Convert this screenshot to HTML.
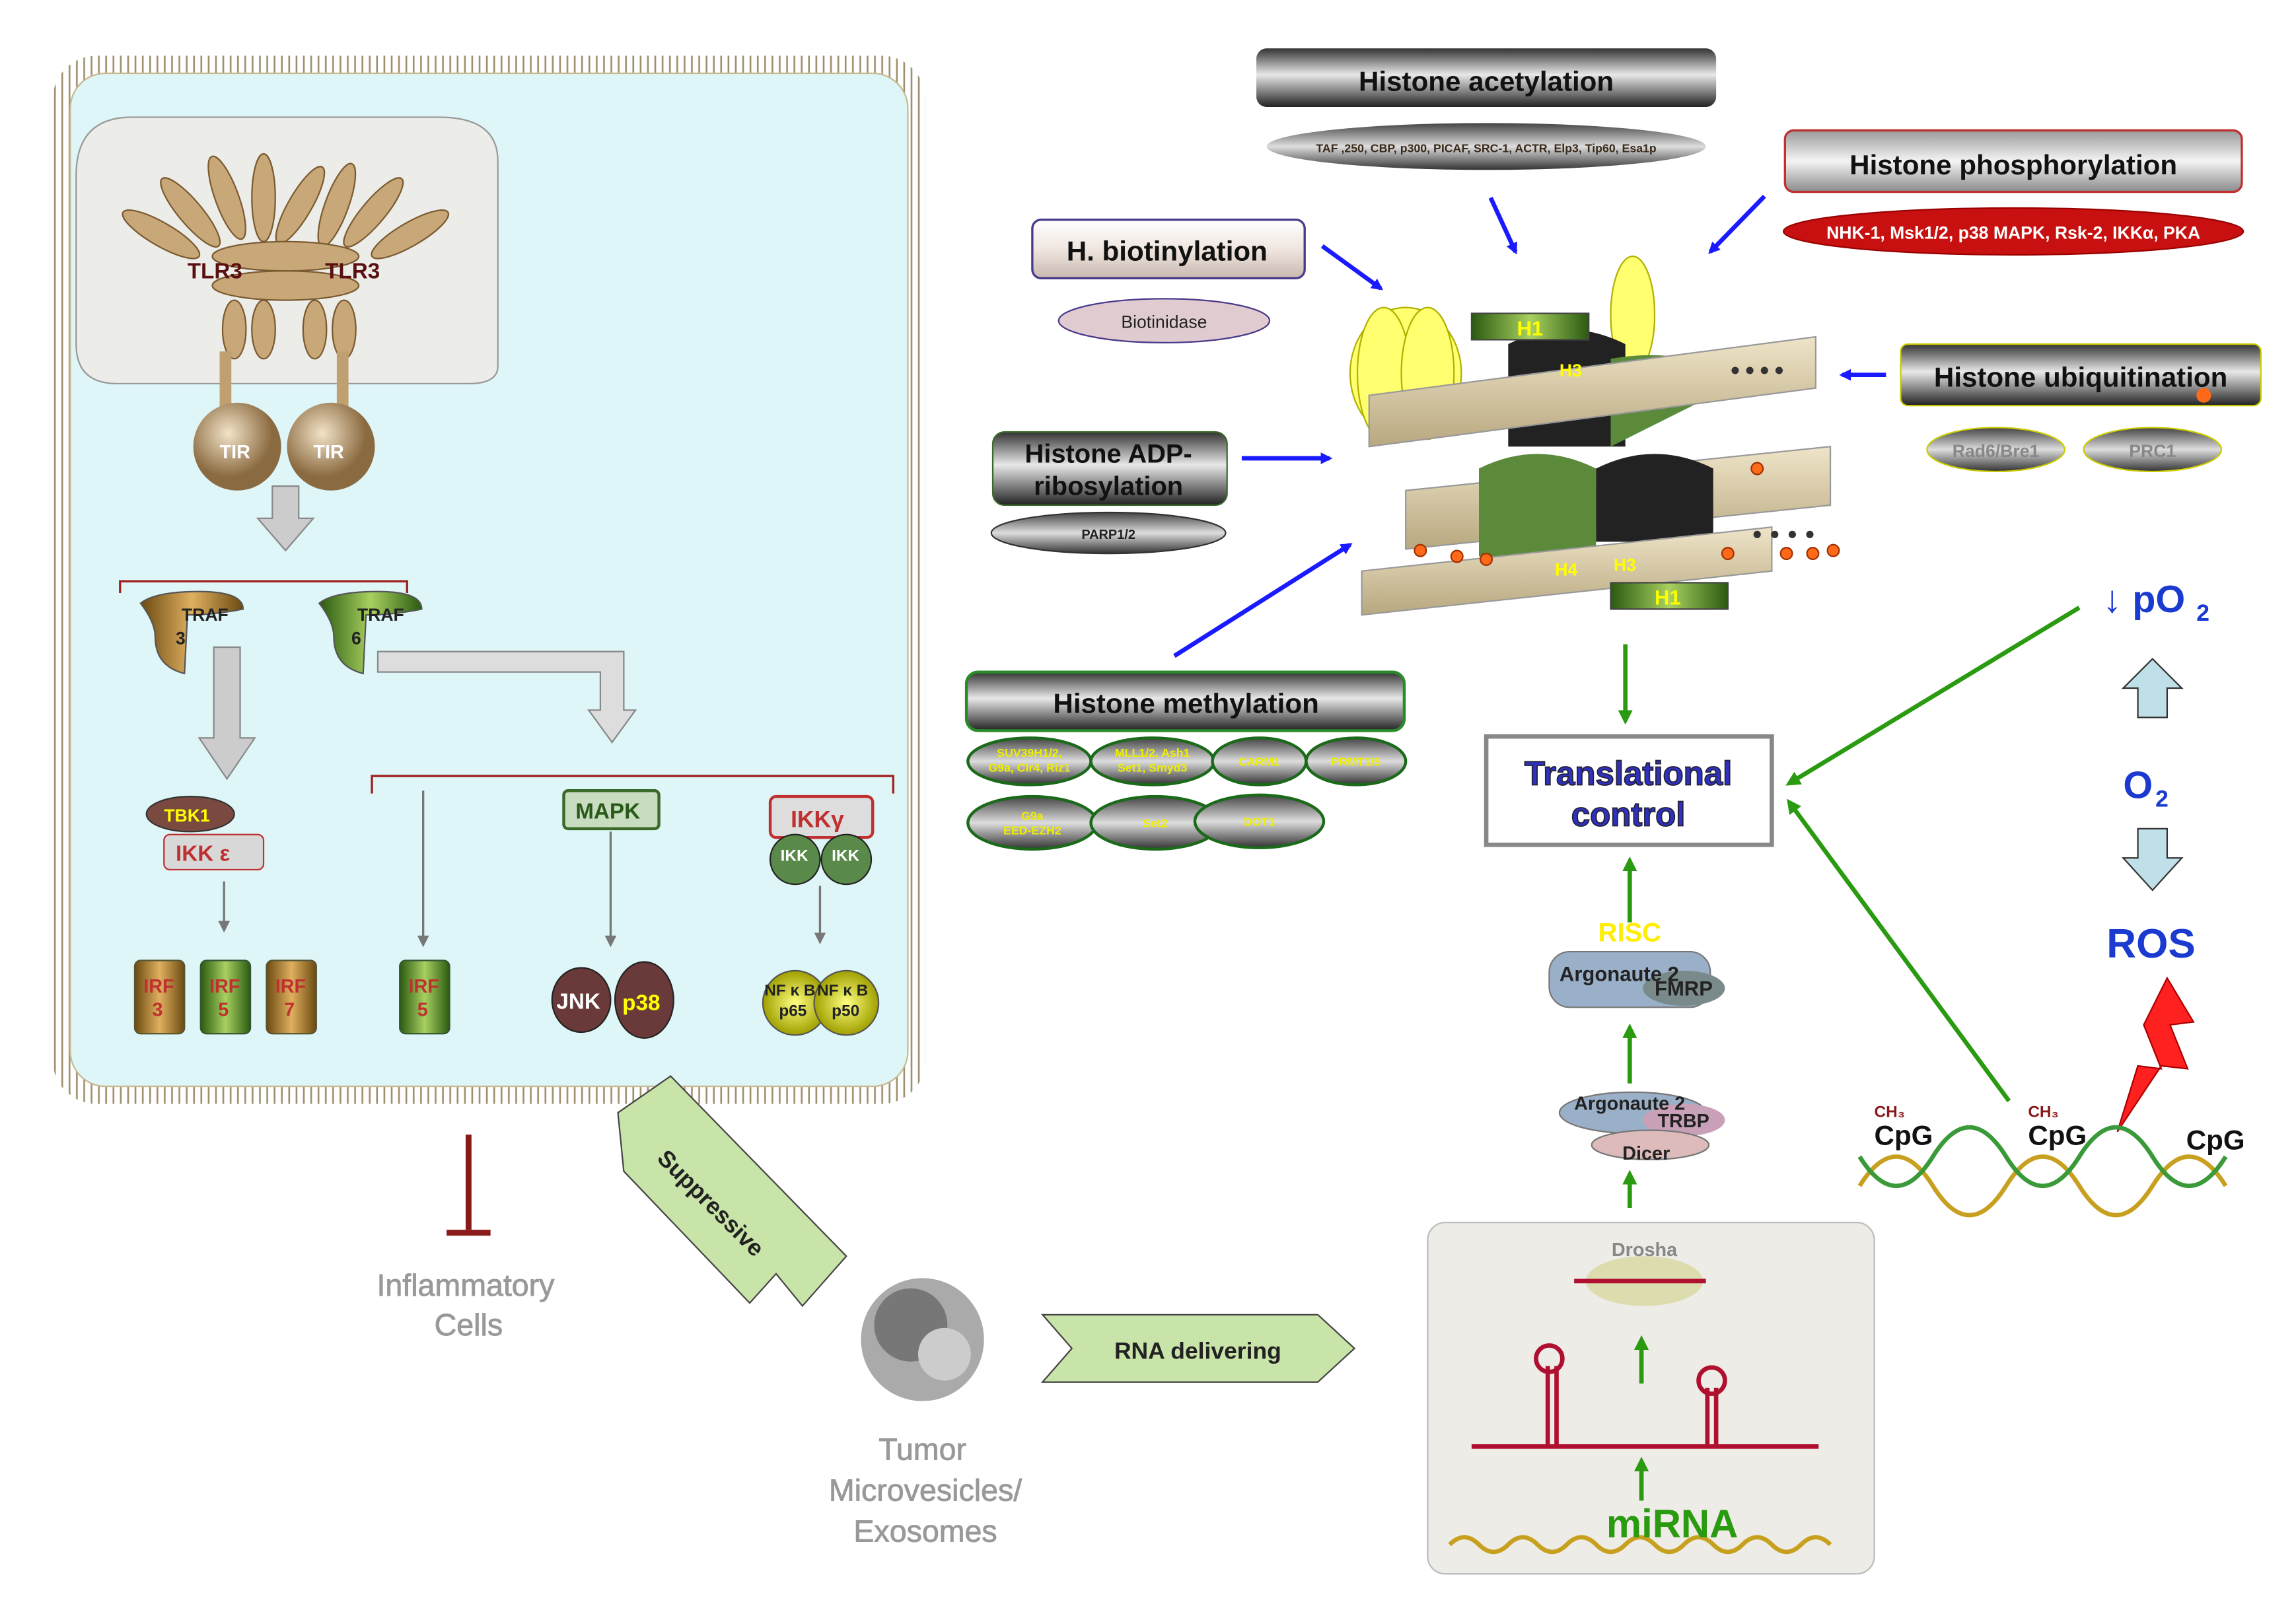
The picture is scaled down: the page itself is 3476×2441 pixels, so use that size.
<!DOCTYPE html>
<html><head><meta charset="utf-8"><style>
html,body{margin:0;padding:0;background:#fff}
svg{display:block}
text{font-family:"Liberation Sans",Arial,sans-serif;font-weight:bold}
</style></head><body>
<svg width="3476" height="2441" viewBox="0 0 1568 1101" xmlns="http://www.w3.org/2000/svg">
<defs>
<linearGradient id="bar" x1="0" y1="0" x2="0" y2="1">
<stop offset="0" stop-color="#333"/><stop offset="0.45" stop-color="#e8e8e8"/><stop offset="1" stop-color="#222"/></linearGradient>
<linearGradient id="barL" x1="0" y1="0" x2="0" y2="1">
<stop offset="0" stop-color="#9a9a9a"/><stop offset="0.5" stop-color="#f4f4f4"/><stop offset="1" stop-color="#8a8a8a"/></linearGradient>
<linearGradient id="tan" x1="0" y1="0" x2="0" y2="1">
<stop offset="0" stop-color="#fff"/><stop offset="0.5" stop-color="#f0e6e0"/><stop offset="1" stop-color="#c8b8b0"/></linearGradient>
<linearGradient id="ov" x1="0" y1="0" x2="0" y2="1">
<stop offset="0" stop-color="#444"/><stop offset="0.5" stop-color="#ddd"/><stop offset="1" stop-color="#333"/></linearGradient>
<radialGradient id="ball" cx="0.4" cy="0.35"><stop offset="0" stop-color="#f3e3c8"/><stop offset="1" stop-color="#8a6a40"/></radialGradient>
<linearGradient id="gold" x1="0" y1="0" x2="1" y2="0"><stop offset="0" stop-color="#6b4a10"/><stop offset="0.5" stop-color="#e0b060"/><stop offset="1" stop-color="#6b4a10"/></linearGradient>
<linearGradient id="grn" x1="0" y1="0" x2="1" y2="0"><stop offset="0" stop-color="#2a5a10"/><stop offset="0.5" stop-color="#a8d060"/><stop offset="1" stop-color="#2a5a10"/></linearGradient>
<radialGradient id="yl" cx="0.5" cy="0.5"><stop offset="0" stop-color="#ffff80"/><stop offset="1" stop-color="#a0a000"/></radialGradient>
<linearGradient id="beige" x1="0" y1="0" x2="0" y2="1"><stop offset="0" stop-color="#efe4c8"/><stop offset="1" stop-color="#b8a880"/></linearGradient>
<marker id="ab" markerWidth="8" markerHeight="8" refX="6" refY="4" orient="auto" markerUnits="userSpaceOnUse"><path d="M0,0 L8,4 L0,8z" fill="#1a1aff"/></marker>
<marker id="ag" markerWidth="10" markerHeight="10" refX="7" refY="5" orient="auto" markerUnits="userSpaceOnUse"><path d="M0,0 L10,5 L0,10z" fill="#2a9a10"/></marker>
<marker id="agr" markerWidth="8" markerHeight="8" refX="6" refY="4" orient="auto" markerUnits="userSpaceOnUse"><path d="M0,0 L8,4 L0,8z" fill="#777"/></marker>
<pattern id="mem" width="5" height="14" patternUnits="userSpaceOnUse"><line x1="2.5" y1="0" x2="2.5" y2="14" stroke="#a09070" stroke-width="1.2"/></pattern>
</defs>

<!-- Cell -->
<rect x="36" y="38" width="596" height="716" rx="30" fill="url(#mem)"/>
<rect x="48" y="50" width="572" height="692" rx="24" fill="#dff6f8" stroke="#c8b890"/>
<path d="M52,120 Q52,80 90,80 L300,80 Q340,80 340,110 L340,250 Q340,262 320,262 L80,262 Q52,262 52,235 Z" fill="#ecede8" stroke="#999"/>
<!-- TLR3 -->
<g fill="#c8a878" stroke="#7a5a30" stroke-width="1">
<ellipse cx="110" cy="160" rx="30" ry="8" transform="rotate(30 110 160)"/>
<ellipse cx="130" cy="145" rx="30" ry="8" transform="rotate(50 130 145)"/>
<ellipse cx="155" cy="135" rx="30" ry="8" transform="rotate(70 155 135)"/>
<ellipse cx="180" cy="135" rx="30" ry="8" transform="rotate(90 180 135)"/>
<ellipse cx="205" cy="140" rx="30" ry="8" transform="rotate(-60 205 140)"/>
<ellipse cx="230" cy="140" rx="30" ry="8" transform="rotate(-70 230 140)"/>
<ellipse cx="255" cy="145" rx="30" ry="8" transform="rotate(-50 255 145)"/>
<ellipse cx="280" cy="160" rx="30" ry="8" transform="rotate(-30 280 160)"/>
<ellipse cx="195" cy="175" rx="50" ry="10"/>
<ellipse cx="195" cy="195" rx="50" ry="10"/>
<ellipse cx="160" cy="225" rx="8" ry="20"/><ellipse cx="180" cy="225" rx="8" ry="20"/>
<ellipse cx="215" cy="225" rx="8" ry="20"/><ellipse cx="235" cy="225" rx="8" ry="20"/>
</g>
<text x="128" y="190" font-size="15" fill="#5a1010">TLR3</text>
<text x="222" y="190" font-size="15" fill="#5a1010">TLR3</text>
<rect x="150" y="240" width="8" height="60" fill="#c0a070"/><rect x="230" y="240" width="8" height="60" fill="#c0a070"/>
<circle cx="162" cy="305" r="30" fill="url(#ball)"/><circle cx="226" cy="305" r="30" fill="url(#ball)"/>
<text x="150" y="313" font-size="13" fill="#fff">TIR</text><text x="214" y="313" font-size="13" fill="#fff">TIR</text>
<!-- big gray arrows -->
<path d="M186,332 h18 v22 h10 l-19,22 l-19,-22 h10z" fill="#ccc" stroke="#888"/>
<path d="M82,405 v-8 h196 v8" fill="none" stroke="#a02020" stroke-width="1.5"/>
<path d="M96,412 q10,-8 40,-8 q30,0 30,12 q-20,4 -38,4 l-2,40 q-20,-5 -20,-25 q0,-10 -10,-23z" fill="url(#gold)" stroke="#555"/>
<text x="124" y="424" font-size="12" fill="#222">TRAF</text><text x="120" y="440" font-size="12" fill="#222">3</text>
<path d="M218,412 q10,-8 40,-8 q30,0 30,12 q-20,4 -38,4 l-2,40 q-20,-5 -20,-25 q0,-10 -10,-23z" fill="url(#grn)" stroke="#555"/>
<text x="244" y="424" font-size="12" fill="#222">TRAF</text><text x="240" y="440" font-size="12" fill="#222">6</text>
<path d="M146,442 h18 v62 h10 l-19,28 l-19,-28 h10z" fill="#ccc" stroke="#888"/>
<path d="M258,445 h168 v40 h8 l-16,22 l-16,-22 h8 v-26 h-152z" fill="#ddd" stroke="#888"/>
<path d="M254,542 v-12 h356 v12" fill="none" stroke="#a02020" stroke-width="1.5"/>
<ellipse cx="130" cy="556" rx="30" ry="12" fill="#7a4a40" stroke="#333"/><text x="112" y="561" font-size="12" fill="#ff0">TBK1</text>
<rect x="112" y="570" width="68" height="24" rx="4" fill="#d8d8d8" stroke="#c03030"/><text x="120" y="588" font-size="15" fill="#c03030">IKK ε</text>
<line x1="153" y1="602" x2="153" y2="635" stroke="#777" stroke-width="1.5" marker-end="url(#agr)"/>
<line x1="289" y1="540" x2="289" y2="645" stroke="#777" stroke-width="1.5" marker-end="url(#agr)"/>
<line x1="417" y1="568" x2="417" y2="645" stroke="#777" stroke-width="1.5" marker-end="url(#agr)"/>
<line x1="560" y1="605" x2="560" y2="643" stroke="#777" stroke-width="1.5" marker-end="url(#agr)"/>
<g font-size="13" fill="#c03030">
<rect x="92" y="656" width="34" height="50" rx="4" fill="url(#gold)" stroke="#553"/><text x="98" y="678">IRF</text><text x="104" y="694">3</text>
<rect x="137" y="656" width="34" height="50" rx="4" fill="url(#grn)" stroke="#353"/><text x="143" y="678">IRF</text><text x="149" y="694">5</text>
<rect x="182" y="656" width="34" height="50" rx="4" fill="url(#gold)" stroke="#553"/><text x="188" y="678">IRF</text><text x="194" y="694">7</text>
<rect x="273" y="656" width="34" height="50" rx="4" fill="url(#grn)" stroke="#353"/><text x="279" y="678">IRF</text><text x="285" y="694">5</text>
</g>
<rect x="385" y="540" width="65" height="26" rx="3" fill="#c8dcc0" stroke="#3a6a2a" stroke-width="2"/><text x="393" y="559" font-size="15" fill="#2a5a1a">MAPK</text>
<ellipse cx="397" cy="683" rx="20" ry="22" fill="#6a3a3a" stroke="#222"/><text x="380" y="689" font-size="15" fill="#fff">JNK</text>
<ellipse cx="440" cy="683" rx="20" ry="26" fill="#6a3a3a" stroke="#222"/><text x="425" y="690" font-size="15" fill="#ff0">p38</text>
<rect x="526" y="544" width="70" height="28" rx="4" fill="#ddd" stroke="#c03030" stroke-width="2"/><text x="540" y="565" font-size="16" fill="#c03030">IKKγ</text>
<circle cx="543" cy="587" r="17" fill="#5a8a4a" stroke="#222"/><circle cx="578" cy="587" r="17" fill="#5a8a4a" stroke="#222"/>
<text x="533" y="588" font-size="11" fill="#fff">IKK</text><text x="568" y="588" font-size="11" fill="#fff">IKK</text>
<circle cx="543" cy="685" r="22" fill="url(#yl)" stroke="#555"/><circle cx="578" cy="685" r="22" fill="url(#yl)" stroke="#555"/>
<text x="522" y="680" font-size="11" fill="#222">NF κ B</text><text x="558" y="680" font-size="11" fill="#222">NF κ B</text>
<text x="532" y="694" font-size="11" fill="#222">p65</text><text x="568" y="694" font-size="11" fill="#222">p50</text>

<!-- bottom left -->
<line x1="320" y1="775" x2="320" y2="840" stroke="#8a1a1a" stroke-width="4"/><line x1="305" y1="842" x2="335" y2="842" stroke="#8a1a1a" stroke-width="4"/>
<text x="318" y="885" font-size="21" fill="#999" text-anchor="middle" style="font-weight:normal;stroke:#999;stroke-width:.4">Inflammatory</text>
<text x="320" y="912" font-size="21" fill="#999" text-anchor="middle" style="font-weight:normal;stroke:#999;stroke-width:.4">Cells</text>
<path d="M422,760 L458,735 L578,858 L548,892 L530,870 L512,890 L426,800z" fill="#c8e4a8" stroke="#444"/>
<text x="0" y="0" font-size="16" fill="#222" transform="translate(448,792) rotate(45)">Suppressive</text>
<circle cx="630" cy="915" r="42" fill="#aaa"/><circle cx="622" cy="905" r="25" fill="#777"/><circle cx="645" cy="925" r="18" fill="#ccc"/>
<text x="630" y="997" font-size="21" fill="#999" text-anchor="middle" style="font-weight:normal;stroke:#999;stroke-width:.4">Tumor</text>
<text x="632" y="1025" font-size="21" fill="#999" text-anchor="middle" style="font-weight:normal;stroke:#999;stroke-width:.4">Microvesicles/</text>
<text x="632" y="1053" font-size="21" fill="#999" text-anchor="middle" style="font-weight:normal;stroke:#999;stroke-width:.4">Exosomes</text>
<path d="M712,898 L900,898 L925,921 L900,944 L712,944 L732,921z" fill="#c8e4a8" stroke="#444"/>
<text x="818" y="928" font-size="16" fill="#222" text-anchor="middle">RNA delivering</text>

<!-- miRNA box -->
<rect x="975" y="835" width="305" height="240" rx="12" fill="#eeece6" stroke="#bbb"/>
<path d="M990,1055 q10,-10 20,0 q10,10 20,0 q10,-10 20,0 q10,10 20,0 q10,-10 20,0 q10,10 20,0 q10,-10 20,0 q10,10 20,0 q10,-10 20,0 q10,10 20,0 q10,-10 20,0 q10,10 20,0 q10,-10 20,0 " fill="none" stroke="#c8a020" stroke-width="3"/>
<line x1="1005" y1="988" x2="1242" y2="988" stroke="#b01030" stroke-width="3"/>
<path d="M1057,988 v-55 M1063,988 v-55" stroke="#b01030" stroke-width="3"/><circle cx="1058" cy="928" r="9" fill="none" stroke="#b01030" stroke-width="3"/>
<path d="M1166,988 v-40 M1172,988 v-40" stroke="#b01030" stroke-width="3"/><circle cx="1169" cy="943" r="9" fill="none" stroke="#b01030" stroke-width="3"/>
<text x="1142" y="1050" font-size="27" fill="#2a9a10" text-anchor="middle">miRNA</text>
<line x1="1121" y1="1025" x2="1121" y2="998" stroke="#2a9a10" stroke-width="3" marker-end="url(#ag)"/>
<line x1="1121" y1="945" x2="1121" y2="915" stroke="#2a9a10" stroke-width="3" marker-end="url(#ag)"/>
<ellipse cx="1123" cy="875" rx="40" ry="17" fill="#d8d8a0" opacity="0.8"/>
<text x="1123" y="858" font-size="13" fill="#888" text-anchor="middle">Drosha</text>
<line x1="1075" y1="875" x2="1165" y2="875" stroke="#b01030" stroke-width="3"/>
<line x1="1113" y1="825" x2="1113" y2="802" stroke="#2a9a10" stroke-width="3" marker-end="url(#ag)"/>
<ellipse cx="1115" cy="760" rx="50" ry="14" fill="#9ab0c8" stroke="#777"/>
<ellipse cx="1150" cy="765" rx="28" ry="11" fill="#c8a0b8"/>
<ellipse cx="1127" cy="782" rx="40" ry="10" fill="#dbb" stroke="#777"/>
<text x="1075" y="758" font-size="13" fill="#222">Argonaute 2</text><text x="1132" y="770" font-size="13" fill="#222">TRBP</text>
<text x="1108" y="792" font-size="13" fill="#222">Dicer</text>
<line x1="1113" y1="740" x2="1113" y2="702" stroke="#2a9a10" stroke-width="3" marker-end="url(#ag)"/>
<rect x="1058" y="650" width="110" height="38" rx="14" fill="#9ab0c8" stroke="#777"/>
<ellipse cx="1150" cy="675" rx="28" ry="12" fill="#7a8a8a"/>
<text x="1113" y="643" font-size="18" fill="#ffee00" text-anchor="middle">RISC</text>
<text x="1065" y="670" font-size="14" fill="#222">Argonaute 2</text><text x="1130" y="680" font-size="14" fill="#222">FMRP</text>
<line x1="1113" y1="630" x2="1113" y2="588" stroke="#2a9a10" stroke-width="3" marker-end="url(#ag)"/>
<rect x="1015" y="503" width="195" height="74" fill="#fff" stroke="#888" stroke-width="3"/>
<text x="1112" y="536" font-size="23" fill="#3030c0" text-anchor="middle" stroke="#223" stroke-width="0.8">Translational</text>
<text x="1112" y="564" font-size="23" fill="#3030c0" text-anchor="middle" stroke="#223" stroke-width="0.8">control</text>
<line x1="1110" y1="440" x2="1110" y2="492" stroke="#2a9a10" stroke-width="3" marker-end="url(#ag)"/>
<line x1="1420" y1="415" x2="1222" y2="535" stroke="#2a9a10" stroke-width="3" marker-end="url(#ag)"/>
<line x1="1372" y1="752" x2="1222" y2="548" stroke="#2a9a10" stroke-width="3" marker-end="url(#ag)"/>

<!-- right: pO2 etc -->
<text x="1436" y="418" font-size="26" fill="#1a3ad0">↓ pO</text><text x="1500" y="424" font-size="16" fill="#1a3ad0">2</text>
<path d="M1470,450 l-20,20 h10 v20 h20 v-20 h10z" fill="#bfe0e8" stroke="#333"/>
<text x="1450" y="545" font-size="26" fill="#1a3ad0">O</text><text x="1472" y="551" font-size="16" fill="#1a3ad0">2</text>
<path d="M1460,566 h20 v20 h10 l-20,22 l-20,-22 h10z" fill="#bfe0e8" stroke="#333"/>
<text x="1469" y="654" font-size="28" fill="#1a3ad0" text-anchor="middle">ROS</text>
<path d="M1480,668 l18,30 l-16,2 l12,30 l-18,-2 l-30,45 l14,-45 l16,2 l-12,-30z" fill="#ff2020" stroke="#a00"/>
<path d="M1270,810 q25,-40 50,0 q25,40 50,0 q25,-40 50,0 q25,40 50,0 q25,-40 50,0" fill="none" stroke="#c8a020" stroke-width="3"/>
<path d="M1270,790 q25,40 50,0 q25,-40 50,0 q25,40 50,0 q25,-40 50,0 q25,40 50,0" fill="none" stroke="#3a9a3a" stroke-width="3"/>
<text x="1280" y="782" font-size="19" fill="#111">CpG</text><text x="1385" y="782" font-size="19" fill="#111">CpG</text><text x="1493" y="785" font-size="19" fill="#111">CpG</text>
<text x="1280" y="763" font-size="11" fill="#8a1a1a">CH₃</text><text x="1385" y="763" font-size="11" fill="#8a1a1a">CH₃</text>

<!-- Nucleosome -->
<g>
<ellipse cx="960" cy="255" rx="38" ry="45" fill="#ffff70" stroke="#b0b000"/>
<ellipse cx="945" cy="255" rx="18" ry="45" fill="#ffff70" stroke="#b0b000"/>
<ellipse cx="975" cy="255" rx="18" ry="45" fill="#ffff70" stroke="#b0b000"/>
<ellipse cx="1115" cy="215" rx="15" ry="40" fill="#ffff70" stroke="#b0b000"/>
<path d="M1030,235 q40,-20 80,0 l0,70 l-80,0z" fill="#222"/>
<path d="M1100,245 q60,-10 80,20 l-80,40z" fill="#5a8a3a"/>
<path d="M935,270 L1240,230 L1240,265 L935,305z" fill="url(#beige)" stroke="#999"/>
<path d="M960,335 L1250,305 L1250,345 L960,375z" fill="url(#beige)" stroke="#999"/>
<path d="M1010,320 q40,-20 80,0 l0,60 l-80,0z" fill="#5a8a3a"/>
<path d="M1090,320 q40,-20 80,0 l0,50 l-80,0z" fill="#222"/>
<path d="M930,390 L1210,360 L1210,390 L930,420z" fill="url(#beige)" stroke="#999"/>
<rect x="1005" y="214" width="80" height="18" fill="url(#grn)" stroke="#444"/><text x="1036" y="229" font-size="14" fill="#ff0">H1</text>
<rect x="1100" y="398" width="80" height="18" fill="url(#grn)" stroke="#444"/><text x="1130" y="413" font-size="14" fill="#ff0">H1</text>
<text x="1065" y="257" font-size="12" fill="#ff0">H3</text><text x="1062" y="393" font-size="12" fill="#ff0">H4</text><text x="1102" y="390" font-size="12" fill="#ff0">H3</text>
<g fill="#ff6a1a" stroke="#a03000"><circle cx="970" cy="376" r="4"/><circle cx="995" cy="380" r="4"/><circle cx="1015" cy="382" r="4"/><circle cx="1180" cy="378" r="4"/><circle cx="1220" cy="378" r="4"/><circle cx="1238" cy="378" r="4"/><circle cx="1252" cy="376" r="4"/><circle cx="1200" cy="320" r="4"/></g>
<g fill="#333"><circle cx="1185" cy="253" r="2.5"/><circle cx="1195" cy="253" r="2.5"/><circle cx="1205" cy="253" r="2.5"/><circle cx="1215" cy="253" r="2.5"/><circle cx="1200" cy="365" r="2.5"/><circle cx="1212" cy="365" r="2.5"/><circle cx="1224" cy="365" r="2.5"/><circle cx="1236" cy="365" r="2.5"/></g>
</g>

<!-- Histone labels -->
<rect x="858" y="33" width="314" height="40" rx="7" fill="url(#bar)"/>
<text x="1015" y="62" font-size="19" fill="#111" text-anchor="middle">Histone acetylation</text>
<ellipse cx="1015" cy="100" rx="150" ry="16" fill="url(#ov)"/>
<text x="1015" y="104" font-size="8" fill="#3a2a1a" text-anchor="middle">TAF ,250, CBP, p300, PICAF, SRC-1, ACTR, Elp3, Tip60, Esa1p</text>
<line x1="1018" y1="135" x2="1035" y2="172" stroke="#1a1aff" stroke-width="3" marker-end="url(#ab)"/>

<rect x="1219" y="89" width="312" height="42" rx="6" fill="url(#barL)" stroke="#c03030" stroke-width="1.5"/>
<text x="1375" y="119" font-size="19" fill="#111" text-anchor="middle">Histone phosphorylation</text>
<ellipse cx="1375" cy="158" rx="157" ry="16" fill="#c81010" stroke="#900"/>
<text x="1375" y="163" font-size="12" fill="#fff" text-anchor="middle">NHK-1, Msk1/2, p38 MAPK, Rsk-2, IKKα, PKA</text>
<line x1="1205" y1="134" x2="1168" y2="172" stroke="#1a1aff" stroke-width="3" marker-end="url(#ab)"/>

<rect x="705" y="150" width="186" height="40" rx="6" fill="url(#tan)" stroke="#4a3a8a" stroke-width="1.5"/>
<text x="797" y="178" font-size="19" fill="#111" text-anchor="middle">H. biotinylation</text>
<ellipse cx="795" cy="219" rx="72" ry="15" fill="#e0ccd0" stroke="#4a3a8a"/>
<text x="795" y="224" font-size="12" fill="#222" text-anchor="middle" style="font-weight:normal">Biotinidase</text>
<line x1="903" y1="168" x2="943" y2="197" stroke="#1a1aff" stroke-width="3" marker-end="url(#ab)"/>

<rect x="1298" y="235" width="246" height="42" rx="5" fill="url(#bar)" stroke="#cc0"/>
<text x="1421" y="264" font-size="19" fill="#111" text-anchor="middle">Histone ubiquitination</text>
<circle cx="1505" cy="270" r="5" fill="#ff6a1a"/>
<line x1="1288" y1="256" x2="1258" y2="256" stroke="#1a1aff" stroke-width="3" marker-end="url(#ab)"/>
<ellipse cx="1363" cy="307" rx="47" ry="15" fill="url(#ov)" stroke="#cc0"/><text x="1363" y="312" font-size="12" fill="#888" text-anchor="middle">Rad6/Bre1</text>
<ellipse cx="1470" cy="307" rx="47" ry="15" fill="url(#ov)" stroke="#cc0"/><text x="1470" y="312" font-size="12" fill="#888" text-anchor="middle">PRC1</text>

<rect x="678" y="295" width="160" height="50" rx="8" fill="url(#bar)" stroke="#3a6a2a"/>
<text x="757" y="316" font-size="18" fill="#111" text-anchor="middle">Histone ADP-</text>
<text x="757" y="338" font-size="18" fill="#111" text-anchor="middle">ribosylation</text>
<ellipse cx="757" cy="364" rx="80" ry="14" fill="url(#ov)" stroke="#333"/>
<text x="757" y="368" font-size="9" fill="#222" text-anchor="middle">PARP1/2</text>
<line x1="848" y1="313" x2="908" y2="313" stroke="#1a1aff" stroke-width="3" marker-end="url(#ab)"/>
<line x1="802" y1="448" x2="922" y2="372" stroke="#1a1aff" stroke-width="3" marker-end="url(#ab)"/>

<rect x="660" y="459" width="299" height="40" rx="8" fill="url(#bar)" stroke="#2a8a2a" stroke-width="2"/>
<text x="810" y="487" font-size="19" fill="#111" text-anchor="middle">Histone methylation</text>
<g stroke="#1a6a1a" stroke-width="2" fill="url(#ov)">
<ellipse cx="703" cy="520" rx="42" ry="16"/><ellipse cx="787" cy="520" rx="42" ry="16"/>
<ellipse cx="860" cy="520" rx="32" ry="16"/><ellipse cx="926" cy="520" rx="34" ry="16"/>
<ellipse cx="705" cy="562" rx="44" ry="18"/><ellipse cx="789" cy="562" rx="44" ry="18"/><ellipse cx="860" cy="561" rx="44" ry="18"/>
</g>
<g font-size="8" fill="#ee0" text-anchor="middle">
<text x="703" y="517">SUV39H1/2,</text><text x="703" y="527">G9a, Clr4, Riz1</text>
<text x="787" y="517">MLL1/2, Ash1</text><text x="787" y="527">Set1, Smyd3</text>
<text x="860" y="523">CARM1</text><text x="926" y="523">PRMT1/5</text>
<text x="705" y="560">G9a</text><text x="705" y="570">EED-EZH2</text>
<text x="789" y="565">Set2</text><text x="860" y="564">DOT1</text>
</g>
</svg>
</body></html>
